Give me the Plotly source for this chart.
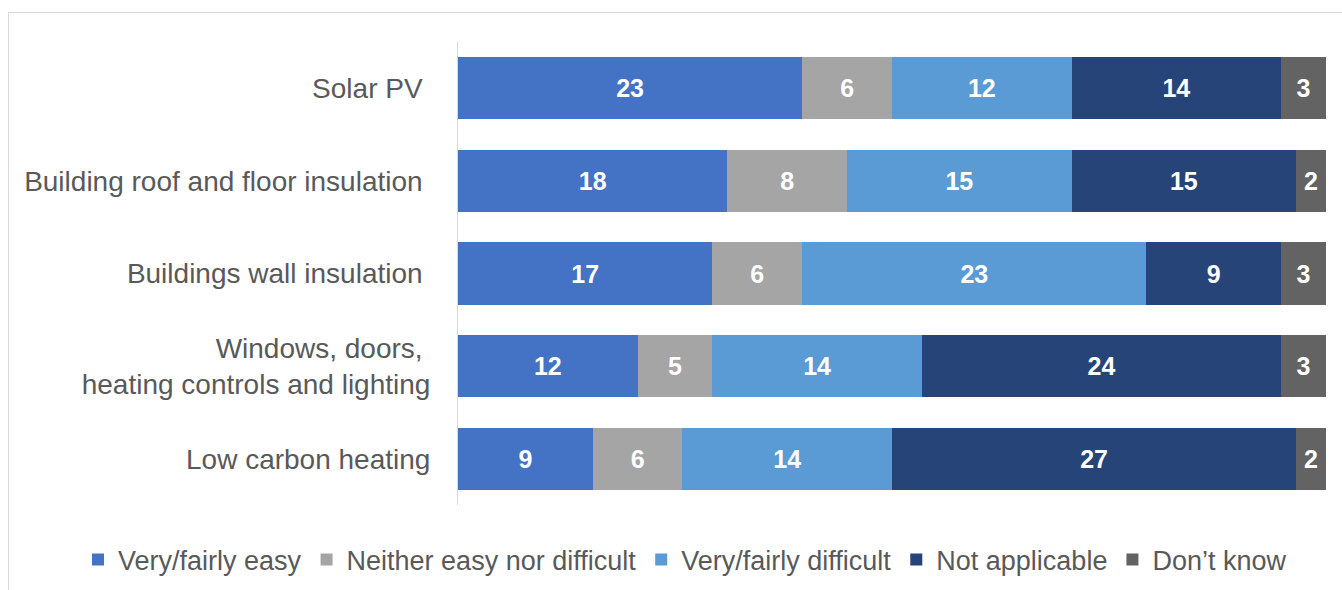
import plotly.graph_objects as go

categories = ["Solar PV\u00a0", "Building roof and floor insulation\u00a0", "Buildings wall insulation\u00a0",
              "Windows, doors,\u00a0<br>heating controls and lighting", "Low carbon heating"]
series_names = ["Very/fairly easy", "Neither easy nor difficult", "Very/fairly difficult", "Not applicable", "Don\u2019t know"]
very_easy = [23, 18, 17, 12, 9]
neither = [6, 8, 6, 5, 6]
very_difficult = [12, 15, 23, 14, 14]
not_applicable = [14, 15, 9, 24, 27]
dont_know = [3, 2, 3, 3, 2]
colors = ["#4472C4", "#A5A5A5", "#5B9BD5", "#264478", "#636363"]

FONT = "Liberation Sans, Arial"
fig = go.Figure()
for name, vals, col in zip(series_names, [very_easy, neither, very_difficult, not_applicable, dont_know], colors):
    fig.add_trace(go.Bar(
        y=categories, x=vals, name=name, orientation="h",
        marker=dict(color=col, line=dict(width=0)),
        text=[str(v) for v in vals], textposition="inside", insidetextanchor="middle",
        textangle=0, constraintext="none",
        textfont=dict(family=FONT, size=25, color="white", weight="bold"),
    ))

fig.update_layout(
    barmode="stack", bargap=0.33,
    width=1342, height=590,
    margin=dict(l=458, r=16, t=42, b=85, autoexpand=False),
    paper_bgcolor="white", plot_bgcolor="white",
    font=dict(family=FONT, size=28, color="#595959"),
    xaxis=dict(range=[0, 58], visible=False, showgrid=False, zeroline=False),
    yaxis=dict(autorange="reversed", showline=True, linecolor="#D9D9D9", linewidth=1,
               ticks="", ticklabelstandoff=21, showgrid=False, automargin=False,
               tickfont=dict(size=28, color="#595959")),
    legend=dict(orientation="h", xref="paper", x=(78 - 458) / 868, xanchor="left",
                yref="paper", y=(505 - 560) / 463, yanchor="middle",
                font=dict(size=27, color="#595959"), traceorder="normal"),
    showlegend=True,
    shapes=[dict(type="rect", xref="paper", yref="paper",
                 x0=(8.5 - 458) / 868, x1=(1360 - 458) / 868,
                 y0=(505 - 600) / 463, y1=(505 - 12.5) / 463,
                 line=dict(color="#D9D9D9", width=1), fillcolor="rgba(0,0,0,0)", layer="below")],
)

fig.write_html("out.html")
